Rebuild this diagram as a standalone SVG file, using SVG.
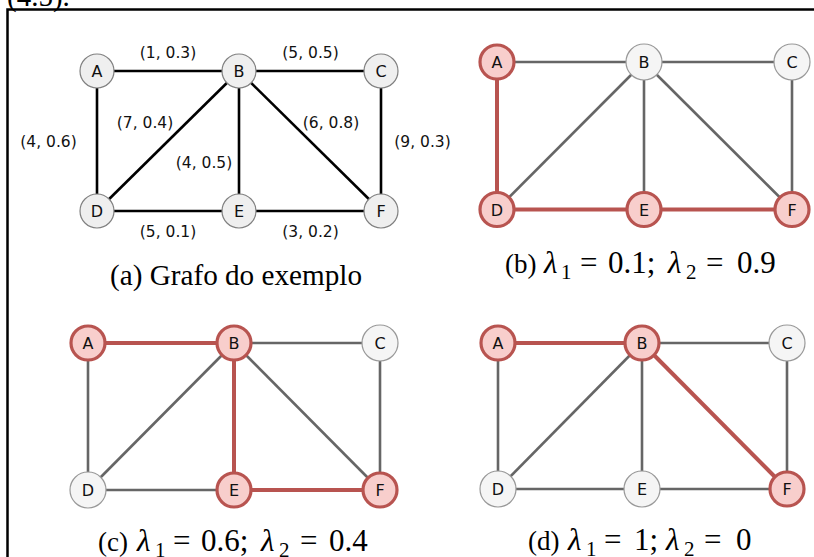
<svg xmlns="http://www.w3.org/2000/svg" width="814" height="557" viewBox="0 0 814 557">
<style>
.cap{font-family:"Liberation Serif","Times New Roman",serif;font-size:29px;fill:#000}
.m{font-size:31px}
.p{font-size:27px}
.sub{font-size:21px}
.lam{font-style:italic;font-size:31px}
.el{font-family:"DejaVu Sans",Verdana,sans-serif;font-size:15.5px;fill:#111;text-anchor:middle}
.nl{font-family:"DejaVu Sans",Verdana,sans-serif;font-size:16px;fill:#111;text-anchor:middle}
.na{fill:#efefef;stroke:#808080;stroke-width:1.2}
.nw{fill:#f5f5f5;stroke:#999;stroke-width:1.2}
.nr{fill:#f8cecc;stroke:#b85450;stroke-width:3.2}
.ea{stroke:#000;stroke-width:2.6;fill:none}
.eg{stroke:#666;stroke-width:2.6;fill:none}
.er{stroke:#b85450;stroke-width:4;fill:none}
</style>
<rect width="814" height="557" fill="#fff"/>
<text x="7" y="6" class="cap" font-size="23">(4.5).</text>
<rect x="7.5" y="9.5" width="900" height="900" fill="none" stroke="#000" stroke-width="2.5"/>

<g id="connectors">
  <!-- panel a -->
  <line class="ea" x1="97" y1="71" x2="239" y2="71"/>
  <line class="ea" x1="239" y1="71" x2="381" y2="71"/>
  <line class="ea" x1="97" y1="71" x2="97" y2="211"/>
  <line class="ea" x1="239" y1="71" x2="97" y2="211"/>
  <line class="ea" x1="239" y1="71" x2="239" y2="211"/>
  <line class="ea" x1="239" y1="71" x2="381" y2="211"/>
  <line class="ea" x1="381" y1="71" x2="381" y2="211"/>
  <line class="ea" x1="97" y1="211" x2="239" y2="211"/>
  <line class="ea" x1="239" y1="211" x2="381" y2="211"/>
  <!-- panel b -->
  <line class="eg" x1="497" y1="62" x2="644" y2="62"/>
  <line class="eg" x1="644" y1="62" x2="792" y2="62"/>
  <line class="eg" x1="644" y1="62" x2="497" y2="209.5"/>
  <line class="eg" x1="644" y1="62" x2="644" y2="209.5"/>
  <line class="eg" x1="644" y1="62" x2="792" y2="209.5"/>
  <line class="eg" x1="792" y1="62" x2="792" y2="209.5"/>
  <line class="er" x1="497" y1="62" x2="497" y2="209.5"/>
  <line class="er" x1="497" y1="209.5" x2="644" y2="209.5"/>
  <line class="er" x1="644" y1="209.5" x2="792" y2="209.5"/>
  <!-- panel c -->
  <line class="eg" x1="234" y1="343" x2="380" y2="343"/>
  <line class="eg" x1="88" y1="343" x2="88" y2="490"/>
  <line class="eg" x1="234" y1="343" x2="88" y2="490"/>
  <line class="eg" x1="234" y1="343" x2="380" y2="490"/>
  <line class="eg" x1="380" y1="343" x2="380" y2="490"/>
  <line class="eg" x1="88" y1="490" x2="234" y2="490"/>
  <line class="er" x1="88" y1="343" x2="234" y2="343"/>
  <line class="er" x1="234" y1="343" x2="234" y2="490"/>
  <line class="er" x1="234" y1="490" x2="380" y2="490"/>
  <!-- panel d -->
  <line class="eg" x1="642" y1="343" x2="787" y2="343"/>
  <line class="eg" x1="498" y1="343" x2="498" y2="489"/>
  <line class="eg" x1="642" y1="343" x2="498" y2="489"/>
  <line class="eg" x1="642" y1="343" x2="642" y2="489"/>
  <line class="eg" x1="787" y1="343" x2="787" y2="489"/>
  <line class="eg" x1="498" y1="489" x2="642" y2="489"/>
  <line class="eg" x1="642" y1="489" x2="787" y2="489"/>
  <line class="er" x1="498" y1="343" x2="642" y2="343"/>
  <line class="er" x1="642" y1="343" x2="787" y2="489"/>
</g>

<g id="edge-labels">
  <text class="el" x="168" y="58">(1, 0.3)</text>
  <text class="el" x="310.5" y="58">(5, 0.5)</text>
  <text class="el" x="48.5" y="146.5">(4, 0.6)</text>
  <text class="el" x="145" y="128">(7, 0.4)</text>
  <text class="el" x="204" y="168">(4, 0.5)</text>
  <text class="el" x="331" y="128">(6, 0.8)</text>
  <text class="el" x="422.5" y="146.5">(9, 0.3)</text>
  <text class="el" x="168" y="237">(5, 0.1)</text>
  <text class="el" x="310.5" y="237">(3, 0.2)</text>
</g>

<!-- panel a nodes -->
<g id="a-A"><circle class="na" cx="97" cy="71" r="17"/><text class="nl" x="97" y="77">A</text></g>
<g id="a-B"><circle class="na" cx="239" cy="71" r="17"/><text class="nl" x="239" y="77">B</text></g>
<g id="a-C"><circle class="na" cx="381" cy="71" r="17"/><text class="nl" x="381" y="77">C</text></g>
<g id="a-D"><circle class="na" cx="97" cy="211" r="17"/><text class="nl" x="97" y="217">D</text></g>
<g id="a-E"><circle class="na" cx="239" cy="211" r="17"/><text class="nl" x="239" y="217">E</text></g>
<g id="a-F"><circle class="na" cx="381" cy="211" r="17"/><text class="nl" x="381" y="217">F</text></g>

<!-- panel b nodes -->
<g id="b-A"><circle class="nr" cx="497" cy="62" r="17"/><text class="nl" x="497" y="68">A</text></g>
<g id="b-B"><circle class="nw" cx="644" cy="62" r="18"/><text class="nl" x="644" y="68">B</text></g>
<g id="b-C"><circle class="nw" cx="792" cy="62" r="18"/><text class="nl" x="792" y="68">C</text></g>
<g id="b-D"><circle class="nr" cx="497" cy="209.5" r="17"/><text class="nl" x="497" y="215.5">D</text></g>
<g id="b-E"><circle class="nr" cx="644" cy="209.5" r="17"/><text class="nl" x="644" y="215.5">E</text></g>
<g id="b-F"><circle class="nr" cx="792" cy="209.5" r="17"/><text class="nl" x="792" y="215.5">F</text></g>

<!-- panel c nodes -->
<g id="c-A"><circle class="nr" cx="88" cy="343" r="17"/><text class="nl" x="88" y="349">A</text></g>
<g id="c-B"><circle class="nr" cx="234" cy="343" r="17"/><text class="nl" x="234" y="349">B</text></g>
<g id="c-C"><circle class="nw" cx="380" cy="343" r="18"/><text class="nl" x="380" y="349">C</text></g>
<g id="c-D"><circle class="nw" cx="88" cy="490" r="18"/><text class="nl" x="88" y="496">D</text></g>
<g id="c-E"><circle class="nr" cx="234" cy="490" r="17"/><text class="nl" x="234" y="496">E</text></g>
<g id="c-F"><circle class="nr" cx="380" cy="490" r="17"/><text class="nl" x="380" y="496">F</text></g>

<!-- panel d nodes -->
<g id="d-A"><circle class="nr" cx="498" cy="343" r="17"/><text class="nl" x="498" y="349">A</text></g>
<g id="d-B"><circle class="nr" cx="642" cy="343" r="17"/><text class="nl" x="642" y="349">B</text></g>
<g id="d-C"><circle class="nw" cx="787" cy="343" r="18"/><text class="nl" x="787" y="349">C</text></g>
<g id="d-D"><circle class="nw" cx="498" cy="489" r="18"/><text class="nl" x="498" y="495">D</text></g>
<g id="d-E"><circle class="nw" cx="642" cy="489" r="18"/><text class="nl" x="642" y="495">E</text></g>
<g id="d-F"><circle class="nr" cx="787" cy="489" r="17"/><text class="nl" x="787" y="495">F</text></g>

<g id="captions">
  <text class="cap" x="236" y="285" text-anchor="middle" textLength="252" lengthAdjust="spacingAndGlyphs">(a) Grafo do exemplo</text>
  <text class="cap" y="273"><tspan x="505" class="p">(b)</tspan><tspan x="544" class="lam">λ</tspan><tspan x="561" dy="6" class="sub">1</tspan><tspan x="580" dy="-6" class="m">=</tspan><tspan x="608" class="m">0.1;</tspan><tspan x="668" class="lam">λ</tspan><tspan x="686" dy="6" class="sub">2</tspan><tspan x="706" dy="-6" class="m">=</tspan><tspan x="737" class="m">0.9</tspan></text>
  <text class="cap" y="551"><tspan x="98" class="p">(c)</tspan><tspan x="137" class="lam">λ</tspan><tspan x="155" dy="6" class="sub">1</tspan><tspan x="173" dy="-6" class="m">=</tspan><tspan x="201" class="m">0.6;</tspan><tspan x="261" class="lam">λ</tspan><tspan x="279" dy="6" class="sub">2</tspan><tspan x="300" dy="-6" class="m">=</tspan><tspan x="329" class="m">0.4</tspan></text>
  <text class="cap" y="550"><tspan x="528" class="p">(d)</tspan><tspan x="568" class="lam">λ</tspan><tspan x="586" dy="6" class="sub">1</tspan><tspan x="604" dy="-6" class="m">=</tspan><tspan x="634" class="m">1;</tspan><tspan x="666" class="lam">λ</tspan><tspan x="684" dy="6" class="sub">2</tspan><tspan x="704" dy="-6" class="m">=</tspan><tspan x="736" class="m">0</tspan></text>
</g>
</svg>
